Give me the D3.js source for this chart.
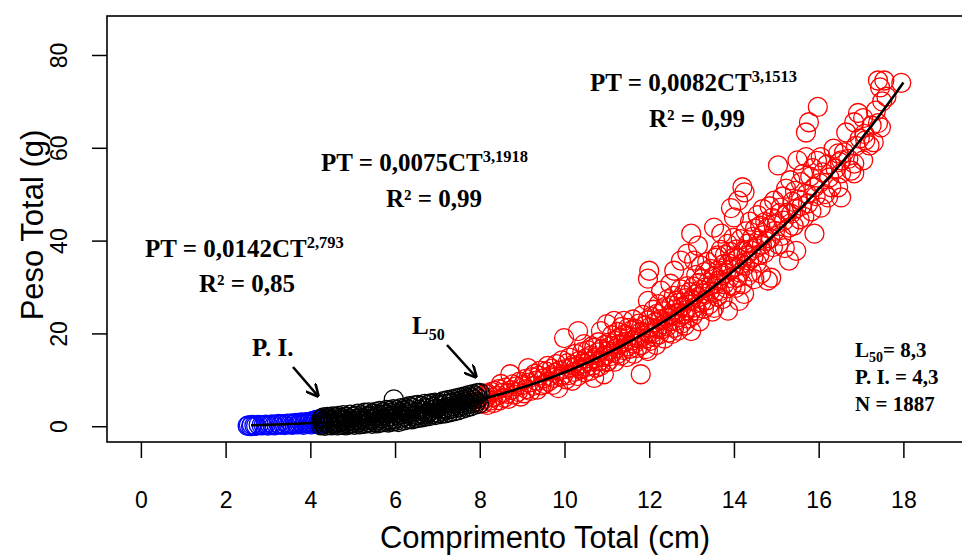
<!DOCTYPE html>
<html>
<head>
<meta charset="utf-8">
<script src="https://cdn.jsdelivr.net/npm/d3@7"></script>
<style>
  html, body { margin: 0; padding: 0; background: #fff; }
  svg { display: block; }
  .eq { font-family: "Liberation Serif", "Times New Roman", serif; font-weight: bold; fill: #000; }
  .ax { font-family: "Liberation Sans", Arial, sans-serif; fill: #000; }
</style>
</head>
<body>
<svg id="chart" width="962" height="556"></svg>
<script>
// Tick values for both axes
const xTicks = [0, 2, 4, 6, 8, 10, 12, 14, 16, 18];
const yTicks = [0, 20, 40, 60, 80];

// Length-weight fits: PT = a * CT^b, drawn over [from, to]
const fitJuvenile = { a: 0.0142, b: 2.793, from: 2.6, to: 4.3 };
const fitImmature = { a: 0.0075, b: 3.1918, from: 4.3, to: 8.0 };
const fitAdult = { a: 0.0082, b: 3.1513, from: 8.0, to: 18.0 };

// Observations [CT (cm), PT (g)] by maturity group
const bluePoints = [
  [2.52,0.1],[2.55,0.2],[2.6,0.0],[2.62,0.3],[2.68,0.15],[2.72,0.1],[2.78,0.3],[2.85,0.2],[2.9,0.25],[2.95,0.35],
  [3.0,0.15],[3.05,0.3],[3.1,0.4],[3.15,0.2],[3.2,0.35],[3.25,0.5],[3.3,0.3],[3.35,0.45],[3.4,0.25],[3.45,0.55],
  [3.5,0.4],[3.55,0.6],[3.58,0.3],[3.62,0.5],[3.66,0.7],[3.7,0.4],[3.74,0.6],[3.78,0.8],[3.8,0.5],[3.84,0.3],
  [3.87,0.7],[3.9,0.9],[3.93,0.5],[3.96,0.75],[4.0,1.0],[4.02,0.4],[4.05,0.8],[4.08,1.2],[4.1,0.6],[4.13,0.9],
  [4.16,1.4],[4.18,0.5],[4.2,1.1],[4.22,0.8],[4.25,1.5],[4.27,0.6],[4.29,1.0]
];

const blackPoints = [
  [4.25,0.2],[4.27,1.6],[4.28,0.9],[4.3,0.4],[4.31,1.9],[4.33,1.1],[4.35,0.1],[4.37,1.5],[4.39,0.6],[4.4,2.0],
  [4.42,0.9],[4.44,0.3],[4.46,1.7],[4.48,1.2],[4.5,0.2],[4.52,2.1],[4.54,0.7],[4.56,1.4],[4.58,0.4],[4.6,1.9],
  [4.62,1.0],[4.64,0.2],[4.66,2.2],[4.68,0.8],[4.7,1.5],[4.72,0.3],[4.74,1.8],[4.76,1.1],[4.78,2.4],[4.8,0.5],
  [4.82,1.4],[4.84,0.2],[4.86,2.0],[4.88,0.9],[4.9,1.7],[4.92,0.4],[4.94,2.5],[4.96,1.2],[4.98,0.6],[5.0,2.0],
  [5.02,1.0],[5.04,0.3],[5.06,2.3],[5.08,1.6],[5.1,0.7],[5.12,2.7],[5.14,1.3],[5.16,0.4],[5.18,1.9],[5.2,0.9],
  [5.22,2.4],[5.24,1.5],[5.26,0.5],[5.28,2.9],[5.3,1.1],[5.32,0.6],[5.34,2.1],[5.36,1.6],[5.38,3.0],[5.4,0.8],
  [5.42,2.3],[5.44,1.3],[5.46,0.5],[5.48,2.8],[5.5,1.7],[5.52,0.9],[5.54,3.1],[5.56,2.0],[5.58,0.6],[5.6,2.5],
  [5.62,1.4],[5.64,3.3],[5.66,0.8],[5.68,2.2],[5.7,1.7],[5.72,3.0],[5.74,0.9],[5.76,2.4],[5.78,1.3],[5.8,3.5],
  [5.82,2.0],[5.84,0.8],[5.86,2.9],[5.88,1.5],[5.9,3.4],[5.92,2.2],[5.94,1.0],[5.96,3.7],[5.97,5.8],[5.98,1.6],
  [6.0,2.7],[6.02,1.1],[6.04,3.5],[6.06,2.3],[6.08,0.9],[6.1,3.0],[6.12,1.8],[6.14,3.9],[6.16,2.5],[6.18,1.2],
  [6.2,3.3],[6.22,2.0],[6.24,4.0],[6.26,1.3],[6.28,2.8],[6.3,3.6],[6.32,1.6],[6.34,4.3],[6.36,2.6],[6.38,3.2],
  [6.4,1.5],[6.42,3.9],[6.44,2.2],[6.46,4.5],[6.48,1.7],[6.5,3.1],[6.52,2.4],[6.54,4.6],[6.56,1.8],[6.58,3.6],
  [6.6,2.8],[6.62,4.4],[6.64,1.9],[6.66,3.3],[6.68,2.5],[6.7,4.8],[6.72,2.1],[6.74,3.9],[6.76,2.7],[6.78,4.6],
  [6.8,3.0],[6.82,2.2],[6.84,4.9],[6.86,3.5],[6.88,2.6],[6.9,4.2],[6.92,3.0],[6.94,5.1],[6.96,2.4],[6.98,3.8],
  [7.0,4.6],[7.02,2.8],[7.04,5.0],[7.06,3.6],[7.08,2.6],[7.1,4.4],[7.12,3.2],[7.14,5.4],[7.16,3.9],[7.18,2.8],
  [7.2,4.8],[7.22,3.5],[7.24,5.6],[7.26,4.1],[7.28,3.0],[7.3,5.0],[7.32,3.8],[7.34,5.8],[7.36,4.4],[7.38,3.2],
  [7.4,5.3],[7.42,3.9],[7.44,6.0],[7.46,4.7],[7.48,3.4],[7.5,5.4],[7.52,4.2],[7.54,6.2],[7.56,5.0],[7.58,3.7],
  [7.6,5.7],[7.62,4.5],[7.64,6.4],[7.66,5.2],[7.68,4.0],[7.7,6.0],[7.72,4.8],[7.74,6.7],[7.76,5.5],[7.78,4.3],
  [7.8,6.2],[7.82,5.0],[7.84,6.9],[7.86,5.8],[7.88,4.6],[7.9,6.5],[7.92,5.3],[7.94,7.1],[7.96,6.0],[7.98,4.8],
  [8.0,7.2]
];

const redPoints = [
  [8.02,5.1],[8.05,6.6],[8.08,4.9],[8.1,5.8],[8.12,7.0],[8.15,6.1],[8.18,4.6],[8.2,6.9],[8.24,5.5],[8.27,7.4],
  [8.3,6.2],[8.33,5.0],[8.36,7.6],[8.4,6.5],[8.44,8.0],[8.47,5.6],[8.5,9.1],[8.53,7.2],[8.57,6.1],[8.6,8.3],
  [8.64,7.0],[8.68,5.9],[8.72,11.2],[8.74,7.8],[8.78,9.0],[8.82,6.8],[8.86,8.6],[8.9,7.4],[8.94,9.6],[8.97,6.4],
  [9.02,8.9],[9.05,7.1],[9.08,10.2],[9.1,8.0],[9.14,12.5],[9.16,9.4],[9.2,7.6],[9.23,10.6],[9.26,8.7],[9.3,11.3],
  [9.33,9.8],[9.36,7.9],[9.4,10.9],[9.43,12.0],[9.46,8.8],[9.5,10.3],[9.53,9.1],[9.56,11.8],[9.6,13.0],[9.62,9.6],
  [9.66,10.8],[9.7,12.4],[9.72,8.9],[9.75,10.4],[9.78,11.5],[9.81,13.4],[9.85,8.2],[9.88,12.0],[9.91,10.7],[9.94,14.2],
  [9.97,11.1],[9.99,19.0],
  [10.02,12.3],[10.04,10.1],[10.07,13.6],[10.1,11.0],[10.12,14.8],[10.15,12.6],[10.18,9.8],[10.2,13.2],[10.23,11.7],[10.26,15.6],
  [10.28,12.9],[10.31,10.8],[10.32,20.5],[10.35,14.1],[10.38,12.2],[10.39,12.5],[10.42,16.0],[10.44,13.5],[10.46,17.7],[10.48,11.6],
  [10.5,14.6],[10.53,12.8],[10.55,16.4],[10.58,13.9],[10.6,11.9],[10.62,15.2],[10.65,17.2],[10.67,13.1],[10.7,10.4],[10.7,16.9],
  [10.72,14.7],[10.75,12.6],[10.78,15.9],[10.8,18.1],[10.82,14.0],[10.85,13.0],[10.86,20.5],[10.88,16.6],[10.9,14.9],[10.93,11.2],
  [10.95,17.5],[10.97,15.3],[10.99,13.8],
  [11.0,22.0],[11.02,16.2],[11.03,14.0],[11.05,18.0],[11.08,15.1],[11.1,17.3],[11.12,19.6],[11.15,16.0],[11.17,22.7],[11.18,13.9],
  [11.2,18.4],[11.22,16.8],[11.25,20.3],[11.26,15.6],[11.28,17.6],[11.3,19.1],[11.33,15.2],[11.35,21.4],[11.37,17.9],[11.4,22.7],
  [11.4,16.4],[11.42,19.8],[11.45,18.2],[11.47,14.9],[11.5,21.2],[11.5,17.2],[11.52,19.4],[11.55,16.7],[11.57,20.6],[11.6,18.5],
  [11.62,23.0],[11.64,15.6],[11.65,17.8],[11.67,21.0],[11.7,19.2],[11.72,16.9],[11.75,22.1],[11.77,18.8],[11.8,11.2],[11.8,20.3],
  [11.82,17.5],[11.85,24.0],[11.87,19.5],[11.9,21.7],[11.92,16.6],[11.94,18.9],[11.96,22.8],[11.97,16.2],[11.97,27.0],[11.98,20.1],
  [12.0,33.5],[11.97,31.8],
  [12.01,21.3],[12.03,18.4],[12.05,23.6],[12.07,20.0],[12.1,25.1],[12.12,19.2],[12.14,22.4],[12.16,17.5],[12.18,24.2],[12.2,21.0],
  [12.22,26.3],[12.24,19.8],[12.26,23.1],[12.28,29.2],[12.3,20.9],[12.32,24.8],[12.34,22.0],[12.36,18.9],[12.38,25.7],[12.4,23.3],
  [12.42,21.5],[12.44,27.4],[12.46,20.2],[12.48,24.0],[12.5,30.7],[12.5,22.6],[12.52,26.0],[12.54,19.9],[12.56,23.8],[12.58,28.1],
  [12.59,21.2],[12.59,33.5],[12.6,25.2],[12.62,22.7],[12.64,27.0],[12.66,24.4],[12.68,20.6],[12.7,26.6],[12.72,23.5],[12.74,29.5],
  [12.75,35.7],[12.76,22.1],[12.78,25.8],[12.8,28.3],[12.82,24.1],[12.84,21.7],[12.86,27.6],[12.88,25.0],[12.9,30.2],[12.9,37.2],
  [12.92,23.2],[12.94,26.9],[12.96,28.9],[12.98,24.6],[12.99,20.5],[12.99,41.5],
  [13.01,27.3],[13.03,23.8],[13.05,30.1],[13.06,35.7],[13.07,25.6],[13.09,28.4],[13.11,32.6],[13.13,24.9],[13.15,38.9],[13.15,27.8],
  [13.17,30.9],[13.19,22.6],[13.21,29.4],[13.22,34.6],[13.23,26.7],[13.25,31.8],[13.27,28.6],[13.29,25.3],[13.31,33.2],[13.33,29.9],
  [13.35,27.1],[13.37,35.4],[13.39,31.0],[13.41,26.2],[13.43,29.0],[13.45,33.9],[13.47,30.4],[13.49,24.7],[13.51,32.2],[13.53,25.5],
  [13.53,42.8],[13.55,28.9],[13.57,36.3],[13.59,30.7],[13.61,27.9],[13.62,36.8],[13.63,33.6],[13.65,31.4],[13.67,29.1],[13.69,38.0],
  [13.7,41.5],[13.71,32.5],[13.73,27.4],[13.75,34.9],[13.77,30.6],[13.79,36.9],[13.81,33.0],[13.83,29.7],[13.85,39.3],[13.86,24.9],
  [13.87,35.1],[13.89,31.9],[13.91,37.6],[13.93,47.0],[13.93,33.8],[13.95,30.2],[13.97,36.2],[13.99,40.6],[14.0,45.0],
  [14.02,34.4],[14.04,29.8],[14.06,38.1],[14.08,32.0],[14.1,48.6],[14.1,36.2],[14.12,27.0],[14.14,33.1],[14.16,40.3],[14.18,35.0],
  [14.2,51.5],[14.2,30.6],[14.22,37.7],[14.24,28.5],[14.25,50.4],[14.26,34.6],[14.28,42.0],[14.3,36.8],[14.32,32.4],[14.34,39.4],
  [14.36,35.7],[14.38,44.1],[14.4,37.9],[14.42,33.3],[14.44,40.8],[14.46,36.5],[14.48,31.7],[14.5,42.6],[14.52,38.4],[14.54,35.2],
  [14.56,45.5],[14.58,40.0],[14.6,36.9],[14.62,43.2],[14.64,32.9],[14.66,39.1],[14.68,46.8],[14.7,41.2],[14.72,37.3],[14.74,44.0],
  [14.76,39.9],[14.8,31.4],[14.8,42.7],[14.84,47.4],[14.86,40.5],[14.88,32.0],[14.9,44.9],[14.92,38.6],[14.95,48.6],[14.97,42.1],
  [15.01,43.6],[15.04,56.2],[15.05,39.2],[15.08,45.9],[15.1,47.1],[15.12,41.0],[15.15,49.5],[15.18,44.3],[15.2,38.4],[15.23,51.2],
  [15.26,46.0],[15.3,35.7],[15.3,42.8],[15.33,53.0],[15.35,45.8],[15.38,48.4],[15.41,43.2],[15.44,50.7],[15.47,37.8],[15.47,46.9],
  [15.5,57.3],[15.52,48.9],[15.55,44.6],[15.58,52.6],[15.6,47.5],[15.63,54.4],[15.66,45.1],[15.7,58.0],[15.7,63.3],[15.72,50.1],
  [15.75,48.0],[15.77,65.5],[15.8,53.8],[15.83,46.3],[15.86,55.6],[15.9,51.5],[15.9,41.5],[15.93,49.6],[15.96,57.2],[15.98,68.8],
  [16.02,52.4],[16.05,58.0],[16.05,47.1],[16.1,54.7],[16.15,50.0],[16.2,56.4],[16.22,49.3],[16.25,53.6],[16.3,51.5],[16.35,59.8],
  [16.4,55.5],[16.46,51.5],[16.46,58.8],[16.5,56.9],[16.53,57.3],[16.53,49.3],[16.53,54.5],[16.6,59.0],[16.65,63.3],[16.7,57.6],
  [16.77,55.1],[16.84,56.6],[16.84,54.5],[16.84,65.5],[16.88,60.4],[16.93,67.5],[16.97,62.0],
  [17.05,66.4],[17.05,57.3],[17.08,63.0],[17.1,61.6],[17.2,60.5],[17.25,64.8],[17.3,61.2],[17.35,68.0],[17.4,65.3],[17.4,74.5],
  [17.45,73.0],[17.47,64.4],[17.5,70.0],[17.55,74.5],[17.6,71.0],[17.95,74.0]
];

// Plot frame
const plotLeft = 107, plotTop = 16, plotBottom = 442, plotRight = 1022;
const x = d3.scaleLinear().domain([-0.8, 20.8]).range([plotLeft, plotRight]);
const y = d3.scaleLinear().domain([-3.4, 88.4]).range([plotBottom, plotTop]);

const svg = d3.select("#chart");
const axisFont = "'Liberation Sans', Arial, sans-serif";

// Axes
const xAxis = svg.append("g")
  .attr("transform", `translate(0,${plotBottom})`)
  .call(d3.axisBottom(x).tickValues(xTicks).tickSize(16).tickPadding(34).tickFormat(d3.format("d")));
xAxis.select(".domain").remove();
xAxis.selectAll("line").attr("stroke", "#000").attr("stroke-width", 1.5);
xAxis.selectAll("text").attr("fill", "#000").attr("font-size", 23).style("font-family", axisFont);

const yAxis = svg.append("g")
  .attr("transform", `translate(${plotLeft},0)`)
  .call(d3.axisLeft(y).tickValues(yTicks).tickSize(15).tickFormat(d3.format("d")));
yAxis.select(".domain").remove();
yAxis.selectAll("line").attr("stroke", "#000").attr("stroke-width", 1.5);
yAxis.selectAll("text")
  .attr("x", null).attr("dy", null)
  .attr("fill", "#000")
  .attr("text-anchor", "middle")
  .attr("transform", "translate(-40,0) rotate(-90)")
  .attr("font-size", 23)
  .style("font-family", axisFont);

// Box around the plotting region
svg.append("rect")
  .attr("x", plotLeft).attr("y", plotTop)
  .attr("width", plotRight - plotLeft).attr("height", plotBottom - plotTop)
  .attr("fill", "none").attr("stroke", "#000").attr("stroke-width", 1.6);

// Axis titles
svg.append("text").attr("class", "ax")
  .attr("x", 545).attr("y", 548)
  .attr("text-anchor", "middle").attr("font-size", 31)
  .text("Comprimento Total (cm)");
svg.append("text").attr("class", "ax")
  .attr("transform", "translate(43,225) rotate(-90)")
  .attr("text-anchor", "middle").attr("font-size", 31)
  .text("Peso Total (g)");

// Points
const plot = svg.append("g");
function drawPoints(data, color) {
  plot.append("g").selectAll("circle").data(data).join("circle")
    .attr("cx", d => x(d[0])).attr("cy", d => y(d[1]))
    .attr("r", 9.5)
    .attr("fill", "none").attr("stroke", color).attr("stroke-width", 1.3);
}
drawPoints(bluePoints, "#0000ff");
drawPoints(redPoints, "#ff0000");
drawPoints(blackPoints, "#000000");

// Fitted curves
const line = d3.line().x(d => x(d[0])).y(d => y(d[1]));
function drawFit(f) {
  const pts = d3.range(0, 101).map(i => {
    const ct = f.from + (f.to - f.from) * i / 100;
    return [ct, f.a * Math.pow(ct, f.b)];
  });
  svg.append("path").datum(pts).attr("d", line)
    .attr("fill", "none").attr("stroke", "#000").attr("stroke-width", 2.6);
}
[fitJuvenile, fitImmature, fitAdult].forEach(drawFit);

// Arrows
const defs = svg.append("defs");
defs.append("marker").attr("id", "head")
  .attr("viewBox", "0 0 10 10").attr("refX", 9).attr("refY", 5)
  .attr("markerWidth", 5).attr("markerHeight", 5).attr("orient", "auto")
  .append("path").attr("d", "M0,0 L10,5 L0,10").attr("fill", "none")
  .attr("stroke", "#000").attr("stroke-width", 2);
function arrow(x1, y1, x2, y2) {
  svg.append("line").attr("x1", x1).attr("y1", y1).attr("x2", x2).attr("y2", y2)
    .attr("stroke", "#000").attr("stroke-width", 2.6).attr("marker-end", "url(#head)");
}
arrow(293, 367, 318, 396);
arrow(447, 345, 476, 377);

// Equation labels
function equation(xPos, yPos, base, sup, size) {
  const t = svg.append("text").attr("class", "eq")
    .attr("x", xPos).attr("y", yPos).attr("font-size", size);
  t.append("tspan").text(base);
  t.append("tspan").attr("dy", -9).attr("font-size", size * 0.66).text(sup);
}
function plain(xPos, yPos, txt, size, anchor) {
  svg.append("text").attr("class", "eq")
    .attr("x", xPos).attr("y", yPos).attr("font-size", size)
    .attr("text-anchor", anchor || "start").text(txt);
}
equation(590, 91, "PT = 0,0082CT", "3,1513", 25);
plain(697, 127, "R² = 0,99", 25, "middle");
equation(321, 171, "PT = 0,0075CT", "3,1918", 25);
plain(434, 207, "R² = 0,99", 25, "middle");
equation(145, 257, "PT = 0,0142CT", "2,793", 25);
plain(247, 292, "R² = 0,85", 25, "middle");

plain(252, 356, "P. I.", 25);
const l50 = svg.append("text").attr("class", "eq").attr("x", 412).attr("y", 334).attr("font-size", 25);
l50.append("tspan").text("L");
l50.append("tspan").attr("dy", 6).attr("font-size", 16).text("50");

// Summary in the lower right
const s1 = svg.append("text").attr("class", "eq").attr("x", 855).attr("y", 357).attr("font-size", 21);
s1.append("tspan").text("L");
s1.append("tspan").attr("dy", 5).attr("font-size", 14).text("50");
s1.append("tspan").attr("dy", -5).text("= 8,3");
plain(855, 384, "P. I. = 4,3", 21);
plain(855, 411, "N = 1887", 21);
</script>
</body>
</html>
